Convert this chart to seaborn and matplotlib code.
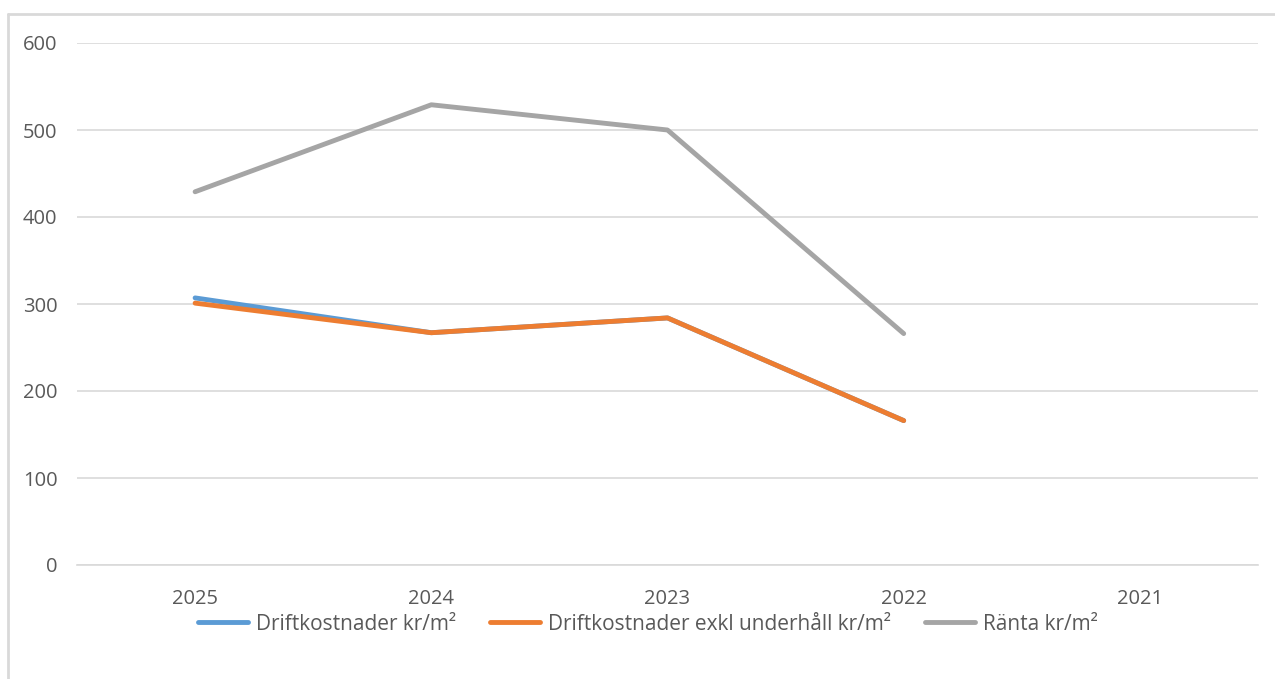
import numpy as np
import pandas as pd
import matplotlib
matplotlib.use("Agg")
import matplotlib.pyplot as plt
import seaborn as sns
from matplotlib.lines import Line2D

years = ["2025", "2024", "2023", "2022", "2021"]
series_names = ["Driftkostnader kr/m²", "Driftkostnader exkl underhåll kr/m²", "Ränta kr/m²"]
drift = [307, 267, 284, 166, np.nan]
drift_exkl = [301, 267, 284, 166, np.nan]
ranta = [429, 529, 500, 266, np.nan]
colors = ["#5b9bd5", "#ed7d31", "#a5a5a5"]

sns.set_theme(style="white")
plt.rcParams['font.family'] = ['Open Sans', 'DejaVu Sans']

rows = []
for name, vals in zip(series_names, [drift, drift_exkl, ranta]):
    for y, v in zip(years, vals):
        rows.append({"year": y, "value": v, "series": name})
df = pd.DataFrame(rows)

fig = plt.figure(figsize=(12.75, 6.79), dpi=100)
# outer chart frame (only top and left edges visible in the reference)
fig.add_artist(Line2D([8/1275, 1.0], [1 - 14/679, 1 - 14/679], transform=fig.transFigure,
                      color="#d9d9d9", linewidth=2))
fig.add_artist(Line2D([8/1275, 8/1275], [0.0, 1 - 14/679], transform=fig.transFigure,
                      color="#d9d9d9", linewidth=2))

ax = fig.add_axes([77/1275, 1 - 565/679, (1258 - 77)/1275, (565 - 43)/679])

sns.lineplot(data=df, x="year", y="value", hue="series", hue_order=series_names,
             palette=colors, linewidth=3.5, sort=False, ax=ax, legend=False)

ax.set_xlim(-0.5, 4.5)
ax.set_ylim(0, 600)
ax.set_yticks(range(0, 601, 100))
ax.set_xticks(range(len(years)))
ax.set_xticklabels(years)
ax.grid(axis="y", color="#d9d9d9", linewidth=1.2)
ax.grid(axis="x", visible=False)
for s in ["top", "right", "left"]:
    ax.spines[s].set_visible(False)
ax.spines["bottom"].set_color("#d9d9d9")
ax.spines["bottom"].set_linewidth(1.2)
ax.tick_params(axis="both", length=0, labelsize=14.5, labelcolor="#595959")
ax.tick_params(axis="y", pad=14)
ax.tick_params(axis="x", pad=17)
ax.set_xlabel("")
ax.set_ylabel("")

handles = [Line2D([0], [0], color=c, lw=3.5) for c in colors]
fig.legend(handles, series_names, loc="center", bbox_to_anchor=(648/1275, 1 - 624/679),
           ncol=3, frameon=False, fontsize=15, labelcolor="#595959",
           handlelength=2.4, handletextpad=0.4, columnspacing=1.6)

fig.savefig("out.png", dpi=100)
